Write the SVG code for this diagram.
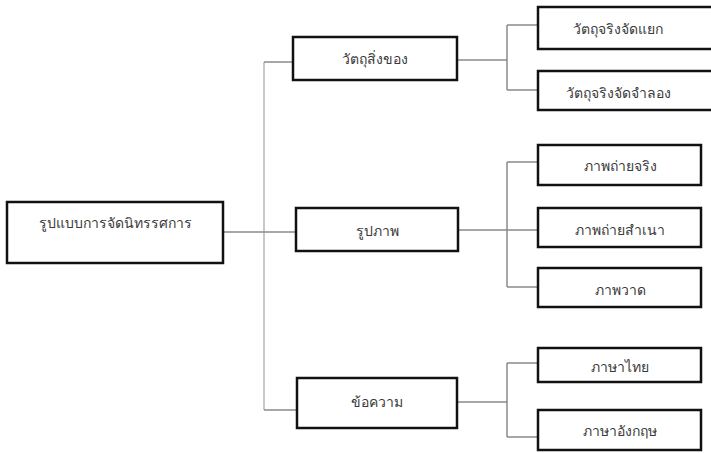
<svg xmlns="http://www.w3.org/2000/svg" width="711" height="453" viewBox="0 0 711 453">
<style>
.box{fill:#fff;stroke:#111;stroke-width:2.5}
.t{font-family:"Noto Sans","DejaVu Sans",sans-serif;font-size:14px;fill:#3a3a3a;text-anchor:middle;dominant-baseline:central}
.c1{stroke:#c8c8c8;stroke-width:2;fill:none}
.c2{stroke:#8a8a8a;stroke-width:1.5;fill:none}
</style>
<rect width="711" height="453" fill="#fff"/>
<g id="connectors">
<path class="c1" d="M264,62 V410"/>
<path class="c2" d="M264,62 H293 M264,410 H297"/>
<path class="c2" d="M223,232 H296"/>
<path class="c2" d="M457,60 H507 M507,25 V90 M507,25 H538 M507,90 H538"/>
<path class="c2" d="M458,230 H538 M507,162 V287 M507,162 H538 M507,287 H538"/>
<path class="c2" d="M457,402 H507 M507,363 V437 M507,363 H538 M507,437 H538"/>
</g>
<g id="root"><rect class="box" x="7" y="202" width="216" height="61"/><text class="t" x="115" y="222">รูปแบบการจัดนิทรรศการ</text></g>
<g id="n1"><rect class="box" x="293" y="37" width="164" height="43"/><text class="t" x="375" y="58">วัตถุสิ่งของ</text></g>
<g id="n2"><rect class="box" x="296" y="208" width="162" height="43"/><text class="t" x="377" y="230">รูปภาพ</text></g>
<g id="n3"><rect class="box" x="297" y="378" width="160" height="50"/><text class="t" x="377" y="401">ข้อความ</text></g>
<g id="n11"><rect class="box" x="538" y="7" width="180" height="42"/><text class="t" x="618" y="28">วัตถุจริงจัดแยก</text></g>
<g id="n12"><rect class="box" x="538" y="71" width="180" height="39"/><text class="t" x="618" y="92">วัตถุจริงจัดจำลอง</text></g>
<g id="n21"><rect class="box" x="538" y="145" width="163" height="40"/><text class="t" x="620" y="165">ภาพถ่ายจริง</text></g>
<g id="n22"><rect class="box" x="538" y="208" width="163" height="39"/><text class="t" x="620" y="229">ภาพถ่ายสำเนา</text></g>
<g id="n23"><rect class="box" x="538" y="268" width="163" height="39"/><text class="t" x="620" y="289">ภาพวาด</text></g>
<g id="n31"><rect class="box" x="538" y="348" width="163" height="34"/><text class="t" x="620" y="366">ภาษาไทย</text></g>
<g id="n32"><rect class="box" x="538" y="410" width="163" height="40"/><text class="t" x="620" y="430">ภาษาอังกฤษ</text></g>
</svg>
